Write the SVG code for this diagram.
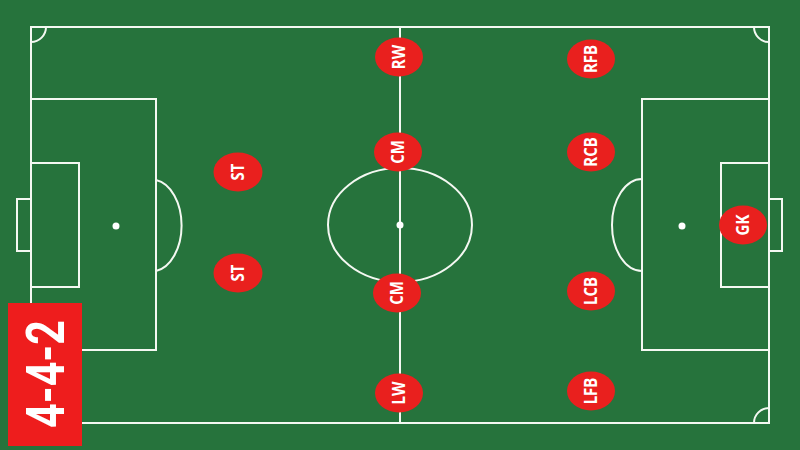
<svg xmlns="http://www.w3.org/2000/svg" width="800" height="450" viewBox="0 0 800 450">
<style>
.ln{fill:none;stroke:#f4f8f2;stroke-width:2}
.spot{fill:#ffffff}
.pl ellipse{fill:#e9201e}
.pl text{fill:#ffffff;font-family:"Open Sans","Liberation Sans",sans-serif;font-weight:bold;font-size:17px;text-anchor:middle;dominant-baseline:central}
</style>
<rect width="800" height="450" fill="#26733c"/>
<g id="pitch">
<rect class="ln" x="31" y="27" width="738" height="396"/>
<line class="ln" x1="400" y1="27" x2="400" y2="423"/>
<ellipse class="ln" cx="400" cy="225" rx="72" ry="57"/>
<circle class="spot" cx="400" cy="225" r="3.5"/>
<path class="ln" d="M31,42 A15,15 0 0 0 46,27"/>
<path class="ln" d="M754,27 A15,15 0 0 0 769,42"/>
<path class="ln" d="M31,408 A15,15 0 0 1 46,423"/>
<path class="ln" d="M754,423 A15,15 0 0 1 769,408"/>
<rect class="ln" x="31" y="99" width="125" height="251"/>
<rect class="ln" x="31" y="163" width="48" height="124"/>
<rect class="ln" x="17" y="199" width="14" height="52"/>
<circle class="spot" cx="116" cy="226" r="3.5"/>
<path class="ln" d="M156,180 A30,46 0 0 1 156,271"/>
<rect class="ln" x="642" y="99" width="127" height="251"/>
<rect class="ln" x="721" y="163" width="48" height="124"/>
<rect class="ln" x="769" y="199" width="13" height="52"/>
<circle class="spot" cx="682" cy="226" r="3.5"/>
<path class="ln" d="M642,179 A30,46 0 0 0 642,271"/>
</g>
<g id="connectors"></g>
<g id="RW" class="pl"><ellipse cx="399" cy="57" rx="24" ry="19.5"/><text transform="translate(399,57) rotate(-90) scale(0.88,1)">RW</text></g>
<g id="CM1" class="pl"><ellipse cx="398" cy="152" rx="24" ry="19.5"/><text transform="translate(398,152) rotate(-90) scale(0.88,1)">CM</text></g>
<g id="CM2" class="pl"><ellipse cx="397" cy="293" rx="24" ry="19.5"/><text transform="translate(397,293) rotate(-90) scale(0.88,1)">CM</text></g>
<g id="LW" class="pl"><ellipse cx="399" cy="393" rx="24" ry="19.5"/><text transform="translate(399,393) rotate(-90) scale(0.88,1)">LW</text></g>
<g id="RFB" class="pl"><ellipse cx="591" cy="59" rx="24" ry="19.5"/><text transform="translate(591,59) rotate(-90) scale(0.88,1)">RFB</text></g>
<g id="RCB" class="pl"><ellipse cx="591" cy="152" rx="24" ry="19.5"/><text transform="translate(591,152) rotate(-90) scale(0.88,1)">RCB</text></g>
<g id="LCB" class="pl"><ellipse cx="591" cy="291" rx="24" ry="19.5"/><text transform="translate(591,291) rotate(-90) scale(0.88,1)">LCB</text></g>
<g id="LFB" class="pl"><ellipse cx="591" cy="391" rx="24" ry="19.5"/><text transform="translate(591,391) rotate(-90) scale(0.88,1)">LFB</text></g>
<g id="ST1" class="pl"><ellipse cx="238" cy="172" rx="24.5" ry="19.5"/><text transform="translate(238,172) rotate(-90) scale(0.88,1)">ST</text></g>
<g id="ST2" class="pl"><ellipse cx="238" cy="273" rx="24.5" ry="19.5"/><text transform="translate(238,273) rotate(-90) scale(0.88,1)">ST</text></g>
<g id="GK" class="pl"><ellipse cx="743" cy="225" rx="24" ry="19.5"/><text transform="translate(743,225) rotate(-90) scale(0.88,1)">GK</text></g>
<g id="formation">
<rect x="8" y="303" width="74" height="143" fill="#ee1d1d"/>
<text transform="translate(45,374) rotate(-90)" fill="#ffffff" font-family="Roboto,'Liberation Sans',sans-serif" font-weight="bold" font-size="54" text-anchor="middle" dominant-baseline="central" textLength="108" lengthAdjust="spacingAndGlyphs">4-4-2</text>
</g>
</svg>
